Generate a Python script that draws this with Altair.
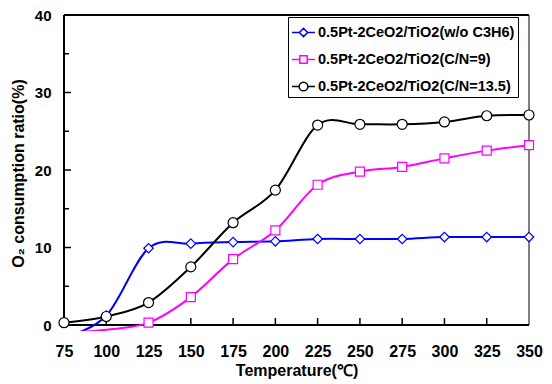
import altair as alt
import pandas as pd

# ---- data ----
temps = [75, 100, 125, 150, 175, 200, 225, 250, 275, 300, 325, 350]
s_blue = [-1.6, 1.2, 9.9, 10.5, 10.7, 10.8, 11.1, 11.1, 11.1, 11.35, 11.35, 11.35]
s_pink = [-1.0, -0.6, 0.3, 3.6, 8.5, 12.2, 18.1, 19.8, 20.4, 21.5, 22.5, 23.2]
s_black = [0.3, 1.1, 2.9, 7.5, 13.2, 17.4, 25.8, 25.9, 25.9, 26.2, 27.0, 27.1]
names = ["0.5Pt-2CeO2/TiO2(w/o C3H6)", "0.5Pt-2CeO2/TiO2(C/N=9)", "0.5Pt-2CeO2/TiO2(C/N=13.5)"]
colors = ["#0000FF", "#FF00FF", "#000000"]
marker_shapes = ["diamond", "square", "circle"]
marker_sizes = [90, 81, 100]
x_ticks = temps
y_ticks = [0, 5, 10, 15, 20, 25, 30, 35, 40]

rows = []
for name, vals in zip(names, [s_blue, s_pink, s_black]):
    for t, v in zip(temps, vals):
        rows.append({"T": t, "v": v, "series": name})
df = pd.DataFrame(rows)

# plot geometry
W, H = 465, 316
X_DOM = [75, 350]
Y_DOM = [-0.774, 40]
px_x = W / (X_DOM[1] - X_DOM[0])
px_y = H / (Y_DOM[1] - Y_DOM[0])

frame = pd.DataFrame({
    "T": [75, 75, 75, 350],
    "T2": [350, 75, 350, 350],
    "v": [0, 0, 40, 0],
    "v2": [0, 40, 40, 40],
    "w": [2, 2, 2, 1],
})

# inward tick marks built from the tick arrays
xt = pd.DataFrame({"T": [t for t in x_ticks if 75 < t < 350]})
xt["T2"] = xt["T"]
xt["v"] = 0.0
xt["v2"] = 7 / px_y
yt = pd.DataFrame({"v": [v for v in y_ticks if 0 < v < 40]})
yt["v2"] = yt["v"]
yt["T"] = 75.0
yt["T2"] = [75 + (7 if v % 10 == 0 else 5) / px_x for v in yt["v"]]

FONT = "Liberation Sans"
xs = alt.Scale(domain=X_DOM, nice=False, zero=False)
ys = alt.Scale(domain=Y_DOM, nice=False, zero=False)

x_axis = alt.Axis(values=x_ticks, offset=-6, ticks=False, domain=False, grid=False,
                  labelPadding=18, labelFlush=False,
                  labelFont=FONT, labelFontSize=16, labelFontWeight="bold", labelColor="black",
                  title="Temperature(℃)", titleFont=FONT, titleFontSize=16, titleFontWeight="bold",
                  titleColor="black", titlePadding=3)
y_axis = alt.Axis(values=y_ticks, ticks=False, domain=False, grid=False, labelPadding=13,
                  labelExpr="datum.value % 10 == 0 ? datum.label : ''",
                  labelFont=FONT, labelFontSize=15, labelFontWeight="bold", labelColor="black",
                  title="O₂ consumption ratio(%)", titleFont=FONT, titleFontSize=16,
                  titleFontWeight="bold", titleColor="black", titlePadding=8)

X = alt.X("T:Q", scale=xs, axis=x_axis)
Y = alt.Y("v:Q", scale=ys, axis=y_axis)

frame_layer = alt.Chart(frame).mark_rule(color="black").encode(
    x=X, x2="T2:Q", y=Y, y2="v2:Q",
    strokeWidth=alt.StrokeWidth("w:Q", legend=None, scale=None),
)
xtick_layer = alt.Chart(xt).mark_rule(color="black", strokeWidth=1.5).encode(
    x=X, x2="T2:Q", y=Y, y2="v2:Q")
ytick_layer = alt.Chart(yt).mark_rule(color="black", strokeWidth=1.5).encode(
    x=X, x2="T2:Q", y=Y, y2="v2:Q")

base = alt.Chart(df)

legend = alt.Legend(orient="none", legendX=224, legendY=2, title=None,
                    strokeColor="black", fillColor="white", padding=3, rowPadding=7,
                    labelFont=FONT, labelFontSize=14.5, labelFontWeight="bold", labelColor="black",
                    labelLimit=0, labelOffset=2, symbolSize=529, symbolStrokeWidth=1.5,
                    symbolOpacity=1)

lines = base.mark_line(interpolate="cardinal", tension=0, strokeWidth=2, clip=True).encode(
    x=X, y=Y,
    color=alt.Color("series:N", scale=alt.Scale(domain=names, range=colors), legend=legend),
    detail="series:N",
)

point_layers = []
for name, col, shp, sz in zip(names, colors, marker_shapes, marker_sizes):
    point_layers.append(
        base.transform_filter(
            (alt.datum.series == name) & (alt.datum.v >= 0)
        ).mark_point(shape=shp, size=sz, filled=True, fill="white", stroke=col,
                     strokeWidth=1.2, opacity=1).encode(x=X, y=Y)
    )

legend_paths = [
    "M-1,0L-0.36,0M0.36,0L1,0M0,-0.36L0.36,0L0,0.36L-0.36,0Z",
    "M-1,0L-0.32,0M0.32,0L1,0M-0.32,-0.32L0.32,-0.32L0.32,0.32L-0.32,0.32Z",
    "M-1,0L-0.38,0M0.38,0L1,0M-0.38,0A0.38,0.38 0 1,0 0.38,0A0.38,0.38 0 1,0 -0.38,0Z",
]

legend_layer = base.transform_filter("datum.v > 1000").mark_point(filled=False, strokeWidth=1.5).encode(
    x=X, y=Y,
    stroke=alt.Stroke("series:N", scale=alt.Scale(domain=names, range=colors), legend=legend),
    shape=alt.Shape("series:N", scale=alt.Scale(domain=names, range=legend_paths), legend=legend),
)

chart = alt.layer(frame_layer, xtick_layer, ytick_layer, lines, *point_layers, legend_layer).properties(
    width=W, height=H,
    autosize=alt.AutoSizeParams(type="none"),
    padding={"left": 64, "top": 15, "right": 23, "bottom": 53},
    background="white",
).configure_view(stroke=None)

chart.save("out.html", embed_options={"renderer": "svg", "actions": False})
